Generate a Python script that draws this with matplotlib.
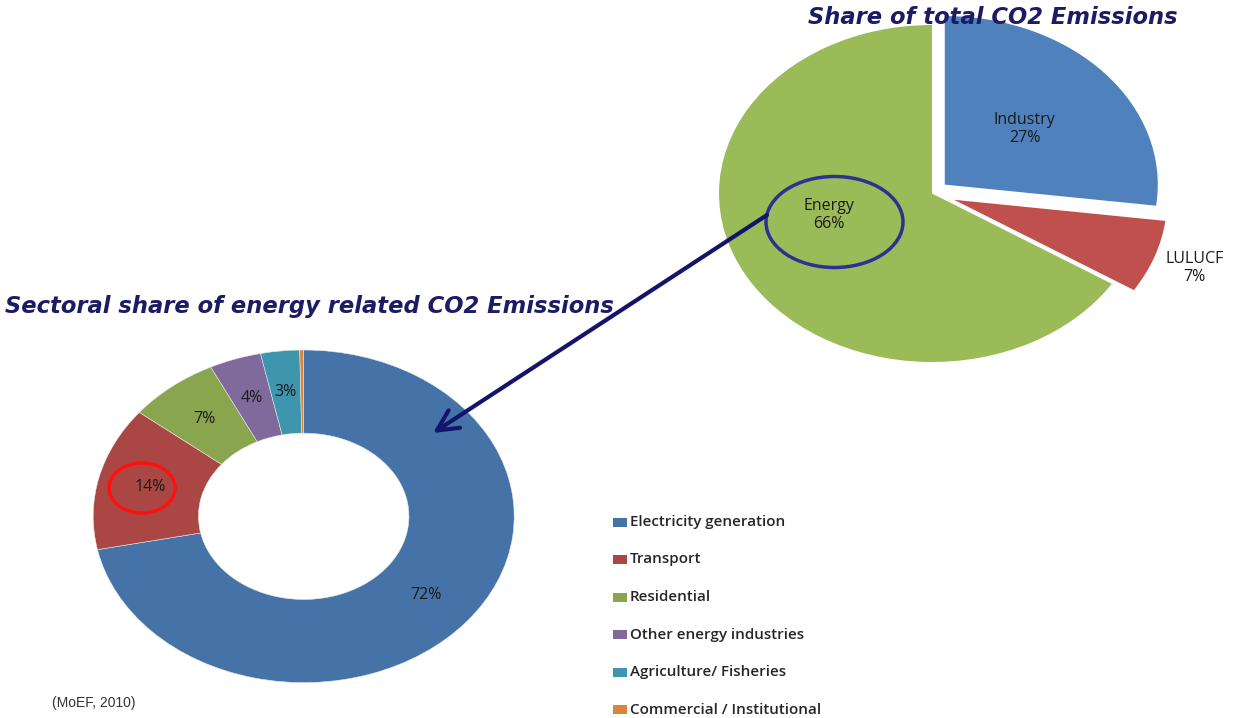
import numpy as np
import matplotlib
matplotlib.use("Agg")
import matplotlib.pyplot as plt
from matplotlib.patches import Ellipse, Rectangle

# ---------------- data ----------------
total_labels = ["Industry", "LULUCF", "Energy"]
total_values = [27, 7, 66]
total_explode = [0.08, 0.11, 0.0]
total_colors = ["#4F81BD", "#C0504D", "#9BBB59"]

sector_labels = ["Electricity generation", "Transport", "Residential",
                 "Other energy industries", "Agriculture/ Fisheries",
                 "Commercial / Institutional"]
sector_values = [72, 14, 7, 4, 3, 0.3]
sector_colors = ["#4572A7", "#AA4643", "#89A54E", "#80699B", "#3D96AE", "#DB843D"]

title_total = "Share of total CO2 Emissions"
title_sector = "Sectoral share of energy related CO2 Emissions"
source_text = "(MoEF, 2010)"

# ---------------- figure ----------------
W, H = 1241, 718
fig = plt.figure(figsize=(W / 100, H / 100), dpi=100)
fig.patch.set_facecolor("white")

LIM = 1.25


def pie_axes(cx, cy, rx, ry):
    left = (cx - LIM * rx) / W
    bottom = (H - (cy + LIM * ry)) / H
    ax = fig.add_axes([left, bottom, 2 * LIM * rx / W, 2 * LIM * ry / H])
    return ax


label_font = dict(family=["Open Sans", "DejaVu Sans"], fontsize=11.5, color="#1a1a1a")

# ---- top pie: share of total ----
ax1 = pie_axes(932, 193.5, 213, 168.5)
wedges1, _ = ax1.pie(total_values, explode=total_explode, colors=total_colors,
                     startangle=90, counterclock=False,
                     wedgeprops=dict(linewidth=0))
ax1.set_aspect("auto")
ax1.set_xlim(-LIM, LIM)
ax1.set_ylim(-LIM, LIM)
ax1.axis("off")

label_dist = [0.5, 1.2, 0.5]
angle_override = [None, None, 195.0]
for w, lab, val, d, ao in zip(wedges1, total_labels, total_values, label_dist, angle_override):
    ang = ao if ao is not None else 0.5 * (w.theta1 + w.theta2)
    cx, cy = w.center
    x = cx + d * np.cos(np.radians(ang))
    y = cy + d * np.sin(np.radians(ang))
    ax1.text(x, y, f"{lab}\n{val}%", ha="center", va="center",
             multialignment="center", linespacing=1.15, **label_font)

# ---- donut: sectoral share ----
ax2 = pie_axes(303.7, 516.3, 210.5, 166.3)
wedges2, _, autotexts = ax2.pie(
    sector_values, colors=sector_colors, startangle=90, counterclock=False,
    autopct=lambda p: f"{p:.0f}%" if p >= 1 else "", pctdistance=0.75,
    wedgeprops=dict(width=0.5, edgecolor="#e6e6e6", linewidth=0.4),
    textprops=label_font)
ax2.set_aspect("auto")
ax2.set_xlim(-LIM, LIM)
ax2.set_ylim(-LIM, LIM)
ax2.axis("off")

# ---- overlay in pixel coordinates ----
ax0 = fig.add_axes([0, 0, 1, 1])
ax0.set_xlim(0, W)
ax0.set_ylim(H, 0)
ax0.axis("off")

title_kw = dict(family=["DejaVu Sans"], fontsize=16.3,
                fontweight="bold", fontstyle="italic", color="#1c1c66")
ax0.text(993, 17, title_total, ha="center", va="center", **title_kw)
ax0.text(5, 307, title_sector, ha="left", va="center", **title_kw)

# Energy circle and arrow
ax0.add_patch(Ellipse((834.5, 222), 137, 91, fill=False, edgecolor="#2E3192", linewidth=2.5))
ax0.annotate("", xy=(433, 433), xytext=(767, 215),
             arrowprops=dict(arrowstyle="->,head_length=0.6,head_width=0.3",
                             mutation_scale=25, color="#14146a", lw=3,
                             shrinkA=0, shrinkB=0))

# red circle around Transport value
ax0.add_patch(Ellipse((142, 488), 66, 50, fill=False, edgecolor="#FF1010", linewidth=2.5))

# legend
leg_y0, leg_dy = 522, 37.5
for i, (lab, col) in enumerate(zip(sector_labels, sector_colors)):
    y = leg_y0 + i * leg_dy
    ax0.add_patch(Rectangle((613, y - 4.5), 14, 9, facecolor=col, edgecolor="none"))
    ax0.text(630, y, lab, ha="left", va="center",
             family=["Open Sans", "DejaVu Sans"], fontsize=10.9, fontweight="semibold",
             color="#262626")

ax0.text(52, 703, source_text, ha="left", va="center",
         family=["Liberation Sans", "DejaVu Sans"], fontsize=10, color="#333333")

fig.savefig("out.png", dpi=100, facecolor="white")
